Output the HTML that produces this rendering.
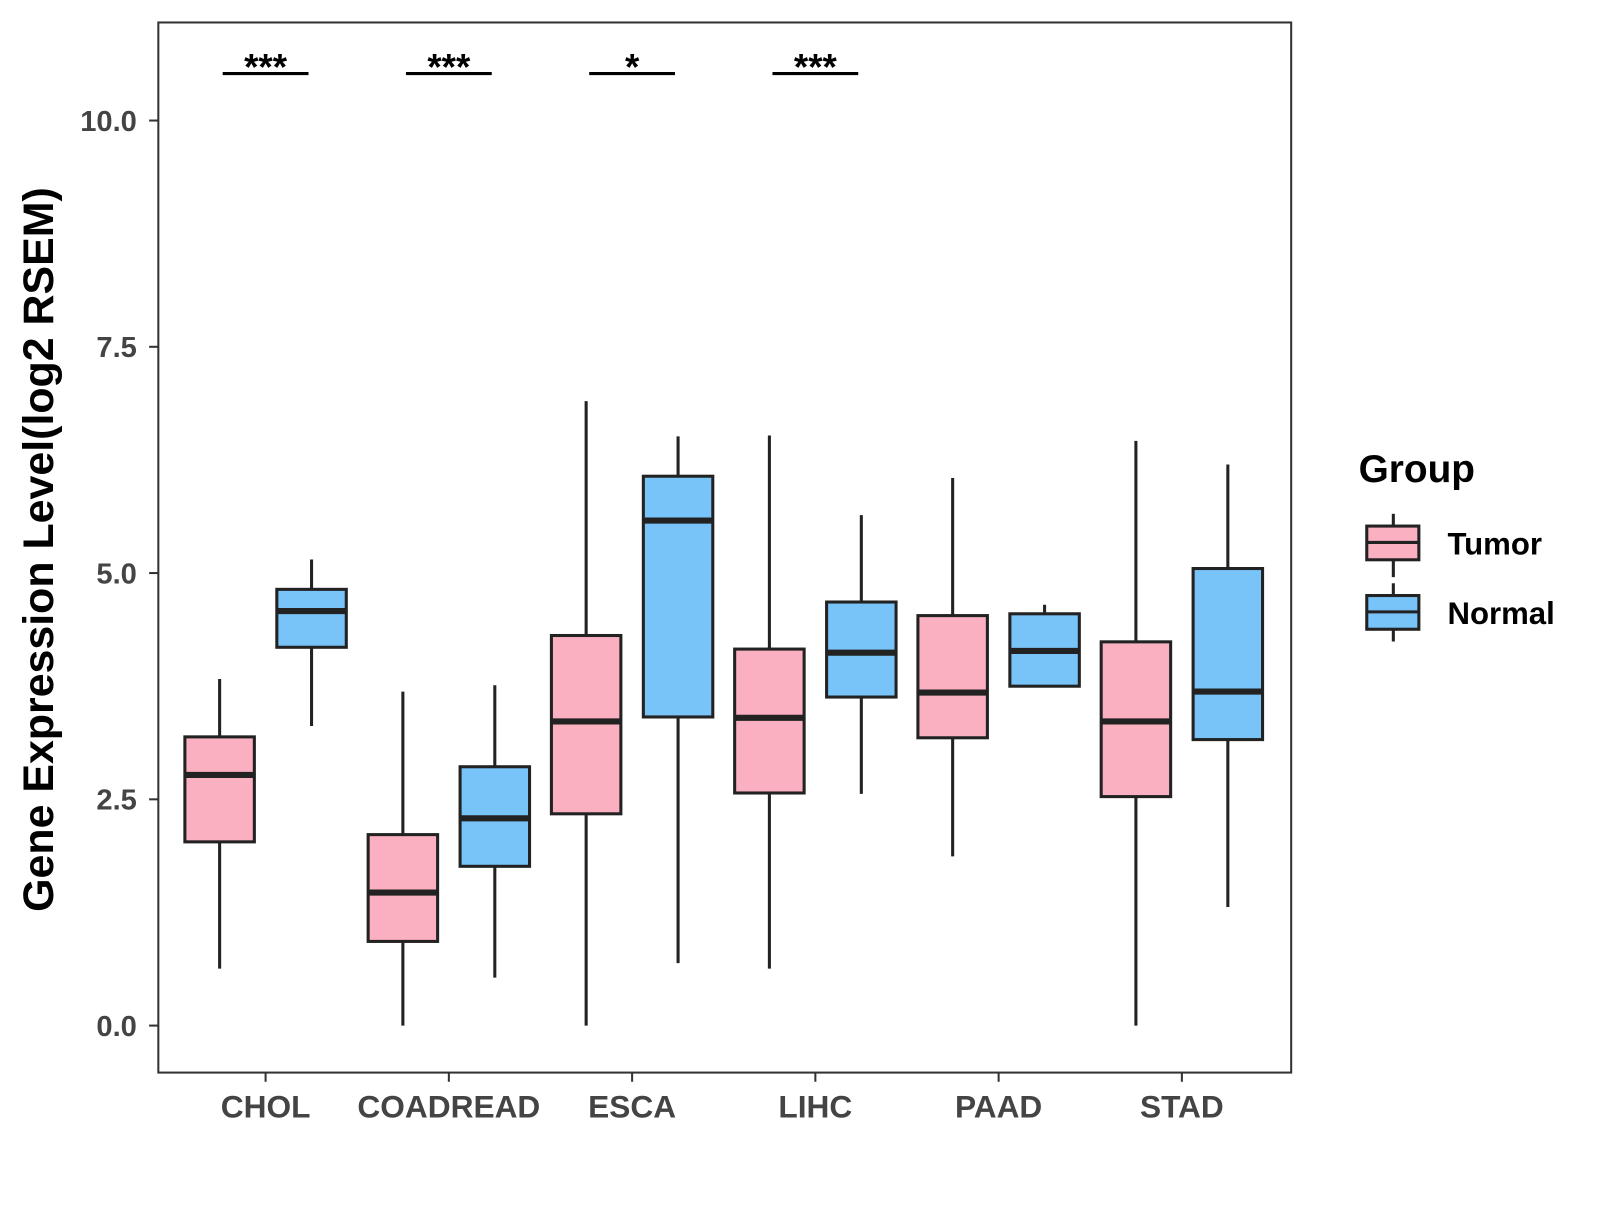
<!DOCTYPE html>
<html><head><meta charset="utf-8"><style>
body{margin:0;background:#fff}
svg text{font-family:"Liberation Sans",Arial,sans-serif;font-weight:bold}
</style></head><body>
<svg id="chart" width="1600" height="1200" xmlns="http://www.w3.org/2000/svg">
<g transform="scale(1.0215)">
<rect x="155" y="22" width="1109" height="1028" fill="#fff" stroke="#333" stroke-width="2"/>
<g id="marks"></g>
<g id="axes"></g>
<text transform="translate(52,538) rotate(-90)" text-anchor="middle" font-size="42" fill="#000">Gene Expression Level(log2 RSEM)</text>
<g>
<text x="1330" y="472" font-size="38" fill="#000">Group</text>
<g>
<line x1="1364" y1="503" x2="1364" y2="565" stroke="#222" stroke-width="3"/>
<rect x="1338" y="515" width="51" height="33" fill="#FBB0C1" stroke="#222" stroke-width="3"/>
<line x1="1338" y1="531" x2="1389" y2="531" stroke="#222" stroke-width="3"/>
<text x="1417" y="543" font-size="30.5" fill="#000">Tumor</text></g>
<g>
<line x1="1364" y1="571" x2="1364" y2="628" stroke="#222" stroke-width="3"/>
<rect x="1338" y="583" width="51" height="33" fill="#78C3F8" stroke="#222" stroke-width="3"/>
<line x1="1338" y1="599" x2="1389" y2="599" stroke="#222" stroke-width="3"/>
<text x="1417" y="611" font-size="30.5" fill="#000">Normal</text></g>
</g>
</g>
</svg>
<script>
const categories=["CHOL","COADREAD","ESCA","LIHC","PAAD","STAD"];
const tumorStats=[[0.63,2.03,2.77,3.19,3.83],[0,0.93,1.47,2.11,3.69],[0,2.34,3.36,4.31,6.90],[0.63,2.57,3.40,4.16,6.52],[1.87,3.18,3.68,4.53,6.05],[0,2.53,3.36,4.24,6.46]];
const normalStats=[[3.31,4.18,4.58,4.82,5.15],[0.53,1.76,2.29,2.86,3.76],[0.69,3.41,5.58,6.07,6.51],[2.56,3.63,4.12,4.68,5.64],[3.75,3.75,4.14,4.55,4.65],[1.31,3.16,3.69,5.05,6.20]];
const significance=["***","***","*","***","",""];
const yTicks=[0,2.5,5,7.5,10];
const yTickLabels=["0.0","2.5","5.0","7.5","10.0"];
const NS="http://www.w3.org/2000/svg";
const y=v=>1004-v*88.6;
const xc=i=>260+i*179.4;
const marks=document.getElementById("marks"),axes=document.getElementById("axes");
function mk(tag,attrs,parent){const e=document.createElementNS(NS,tag);for(const k in attrs)e.setAttribute(k,attrs[k]);parent.appendChild(e);return e;}
function box(s,cx,fill,name,parent){
 const g=mk("g",{},parent);
 
 
 mk("line",{x1:cx,x2:cx,y1:y(s[4]),y2:y(s[0]),stroke:"#222","stroke-width":3},g);
 mk("rect",{x:cx-34,y:y(s[3]),width:68,height:y(s[1])-y(s[3]),fill:fill,stroke:"#222","stroke-width":3},g);
 mk("line",{x1:cx-34,x2:cx+34,y1:y(s[2]),y2:y(s[2]),stroke:"#222","stroke-width":6},g);
}
categories.forEach((c,i)=>{
 box(tumorStats[i],xc(i)-45,"#FBB0C1","box-tumor-"+c.toLowerCase(),marks);
 box(normalStats[i],xc(i)+45,"#78C3F8","box-normal-"+c.toLowerCase(),marks);
 const t=mk("line",{x1:xc(i),x2:xc(i),y1:1050,y2:1059,stroke:"#333","stroke-width":2},axes);
 
 
 const l=mk("text",{x:xc(i),y:1094,"text-anchor":"middle","font-size":31,fill:"#444"},axes);
 l.textContent=c;
 
 
 if(significance[i]){
  const g=mk("g",{},marks);
  
  
  mk("line",{x1:xc(i)-42,x2:xc(i)+42,y1:72,y2:72,stroke:"#000","stroke-width":3},g);
  const s=mk("text",{x:xc(i),y:78,"text-anchor":"middle","font-size":36,fill:"#000"},g);
  s.textContent=significance[i];
 }
});
yTicks.forEach((v,i)=>{
 const t=mk("line",{x1:146,x2:155,y1:y(v),y2:y(v),stroke:"#333","stroke-width":2},axes);
 
 
 const l=mk("text",{x:134,y:y(v)+10,"text-anchor":"end","font-size":28.5,fill:"#444"},axes);
 l.textContent=yTickLabels[i];
 
 
});
</script>
</body></html>
